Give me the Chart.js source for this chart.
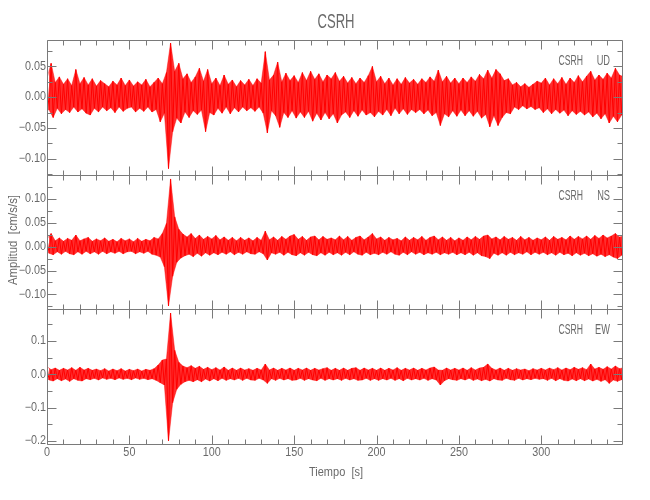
<!DOCTYPE html>
<html>
<head>
<meta charset="utf-8">
<title>CSRH</title>
<script src="https://cdn.jsdelivr.net/npm/chart.js@4.4.0/dist/chart.umd.min.js"></script>
<style>
  html, body { margin: 0; padding: 0; background: #fff; }
</style>
</head>
<body>
<canvas id="sismo" width="650" height="500"></canvas>
<script>
// estacion y componentes del registro
const estacion = 'CSRH';
const componentes = ['UD', 'NS', 'EW'];

const paso = 2.5;
const tMax = 349.6;
const marcasT = [0, 50, 100, 150, 200, 250, 300];

const udMax = [
  0.031, 0.055, 0.024, 0.033, 0.021, 0.030, 0.019, 0.045, 0.022, 0.032,
  0.020, 0.030, 0.018, 0.027, 0.022, 0.017, 0.026, 0.020, 0.031, 0.019,
  0.028, 0.018, 0.025, 0.020, 0.029, 0.017, 0.024, 0.031, 0.022, 0.040,
  0.088, 0.042, 0.055, 0.030, 0.038, 0.024, 0.033, 0.047, 0.026, 0.045,
  0.022, 0.031, 0.019, 0.036, 0.021, 0.028, 0.017, 0.027, 0.020, 0.029,
  0.019, 0.030, 0.023, 0.074, 0.028, 0.036, 0.057, 0.025, 0.039, 0.027,
  0.035, 0.024, 0.040, 0.027, 0.042, 0.029, 0.038, 0.025, 0.036, 0.030,
  0.040, 0.026, 0.034, 0.023, 0.032, 0.022, 0.031, 0.024, 0.035, 0.050,
  0.025, 0.034, 0.022, 0.031, 0.020, 0.030, 0.021, 0.032, 0.023, 0.029,
  0.021, 0.030, 0.024, 0.033, 0.026, 0.044, 0.025, 0.034, 0.023, 0.031,
  0.022, 0.031, 0.024, 0.033, 0.026, 0.037, 0.030, 0.044, 0.031, 0.045,
  0.038, 0.027, 0.030, 0.020, 0.024, 0.017, 0.022, 0.016, 0.021, 0.026,
  0.023, 0.031, 0.020, 0.030, 0.022, 0.032, 0.021, 0.031, 0.024, 0.035,
  0.025, 0.034, 0.042, 0.028, 0.036, 0.029, 0.039, 0.031, 0.047, 0.036,
  0.033
];
const udMin = [
  -0.021, -0.033, -0.018, -0.027, -0.020, -0.025, -0.016, -0.024, -0.019, -0.026,
  -0.029, -0.018, -0.024, -0.016, -0.022, -0.017, -0.025, -0.016, -0.023, -0.018,
  -0.016, -0.024, -0.018, -0.023, -0.016, -0.024, -0.020, -0.040, -0.026, -0.116,
  -0.056, -0.034, -0.042, -0.024, -0.033, -0.022, -0.028, -0.021, -0.056, -0.025,
  -0.029, -0.018, -0.026, -0.016, -0.027, -0.017, -0.024, -0.016, -0.022, -0.017,
  -0.023, -0.016, -0.026, -0.058, -0.022, -0.030, -0.049, -0.025, -0.033, -0.022,
  -0.034, -0.024, -0.033, -0.023, -0.039, -0.026, -0.037, -0.025, -0.035, -0.027,
  -0.042, -0.029, -0.024, -0.033, -0.022, -0.031, -0.021, -0.029, -0.025, -0.032,
  -0.023, -0.029, -0.020, -0.030, -0.018, -0.027, -0.019, -0.028, -0.020, -0.025,
  -0.020, -0.027, -0.021, -0.030, -0.025, -0.046, -0.027, -0.032, -0.022, -0.031,
  -0.021, -0.030, -0.022, -0.031, -0.023, -0.034, -0.028, -0.048, -0.030, -0.046,
  -0.033, -0.025, -0.027, -0.016, -0.020, -0.014, -0.019, -0.015, -0.020, -0.017,
  -0.025, -0.019, -0.027, -0.020, -0.026, -0.021, -0.030, -0.022, -0.028, -0.023,
  -0.029, -0.024, -0.032, -0.026, -0.035, -0.027, -0.042, -0.031, -0.040, -0.029,
  -0.033
];

const nsMax = [
  0.016, 0.027, 0.012, 0.018, 0.011, 0.017, 0.013, 0.024, 0.012, 0.016,
  0.019, 0.011, 0.016, 0.012, 0.018, 0.011, 0.015, 0.010, 0.017, 0.012,
  0.016, 0.010, 0.017, 0.011, 0.015, 0.012, 0.019, 0.016, 0.027, 0.048,
  0.141, 0.062, 0.036, 0.026, 0.020, 0.027, 0.017, 0.024, 0.015, 0.021,
  0.016, 0.023, 0.014, 0.020, 0.013, 0.019, 0.012, 0.019, 0.013, 0.018,
  0.012, 0.019, 0.013, 0.032, 0.014, 0.020, 0.013, 0.021, 0.015, 0.022,
  0.025, 0.015, 0.021, 0.013, 0.020, 0.022, 0.014, 0.021, 0.015, 0.018,
  0.014, 0.022, 0.014, 0.021, 0.013, 0.019, 0.022, 0.014, 0.020, 0.027,
  0.016, 0.020, 0.013, 0.019, 0.014, 0.017, 0.012, 0.020, 0.013, 0.019,
  0.014, 0.021, 0.013, 0.019, 0.022, 0.014, 0.020, 0.013, 0.019, 0.012,
  0.018, 0.013, 0.020, 0.014, 0.021, 0.015, 0.022, 0.024, 0.016, 0.020,
  0.014, 0.021, 0.015, 0.019, 0.013, 0.021, 0.014, 0.019, 0.013, 0.018,
  0.014, 0.020, 0.013, 0.021, 0.015, 0.019, 0.014, 0.022, 0.015, 0.021,
  0.016, 0.022, 0.015, 0.023, 0.017, 0.024, 0.018, 0.022, 0.027, 0.020,
  0.022
];
const nsMin = [
  -0.014, -0.017, -0.011, -0.016, -0.010, -0.015, -0.017, -0.011, -0.016, -0.010,
  -0.015, -0.011, -0.016, -0.010, -0.015, -0.011, -0.014, -0.010, -0.015, -0.011,
  -0.010, -0.015, -0.011, -0.014, -0.010, -0.016, -0.018, -0.022, -0.042, -0.124,
  -0.062, -0.033, -0.024, -0.019, -0.016, -0.021, -0.014, -0.020, -0.013, -0.018,
  -0.013, -0.017, -0.012, -0.016, -0.011, -0.017, -0.012, -0.016, -0.011, -0.015,
  -0.016, -0.011, -0.015, -0.028, -0.013, -0.016, -0.012, -0.018, -0.012, -0.017,
  -0.019, -0.013, -0.018, -0.012, -0.017, -0.019, -0.013, -0.018, -0.012, -0.017,
  -0.013, -0.018, -0.012, -0.017, -0.011, -0.016, -0.018, -0.012, -0.017, -0.014,
  -0.017, -0.012, -0.016, -0.011, -0.016, -0.018, -0.012, -0.017, -0.011, -0.016,
  -0.012, -0.017, -0.013, -0.016, -0.012, -0.017, -0.013, -0.016, -0.012, -0.017,
  -0.013, -0.017, -0.012, -0.018, -0.013, -0.019, -0.021, -0.025, -0.014, -0.018,
  -0.013, -0.018, -0.012, -0.017, -0.013, -0.016, -0.011, -0.017, -0.012, -0.016,
  -0.012, -0.017, -0.013, -0.018, -0.012, -0.017, -0.014, -0.019, -0.013, -0.018,
  -0.014, -0.019, -0.015, -0.020, -0.016, -0.021, -0.017, -0.022, -0.025, -0.018,
  -0.021
];

const ewMax = [
  0.023, 0.014, 0.019, 0.012, 0.018, 0.013, 0.020, 0.012, 0.021, 0.013,
  0.018, 0.012, 0.016, 0.011, 0.017, 0.010, 0.016, 0.011, 0.017, 0.010,
  0.015, 0.011, 0.016, 0.010, 0.015, 0.012, 0.017, 0.028, 0.043, 0.046,
  0.184, 0.072, 0.036, 0.025, 0.020, 0.026, 0.018, 0.024, 0.015, 0.021,
  0.014, 0.020, 0.013, 0.022, 0.012, 0.019, 0.012, 0.019, 0.013, 0.017,
  0.012, 0.018, 0.013, 0.031, 0.013, 0.019, 0.012, 0.018, 0.013, 0.019,
  0.012, 0.018, 0.013, 0.019, 0.012, 0.018, 0.013, 0.017, 0.020, 0.012,
  0.018, 0.012, 0.019, 0.012, 0.018, 0.020, 0.012, 0.019, 0.013, 0.018,
  0.012, 0.019, 0.012, 0.018, 0.013, 0.020, 0.012, 0.018, 0.013, 0.019,
  0.012, 0.018, 0.013, 0.019, 0.022, 0.013, 0.012, 0.019, 0.013, 0.018,
  0.013, 0.019, 0.012, 0.020, 0.013, 0.019, 0.021, 0.031, 0.018, 0.013,
  0.019, 0.012, 0.018, 0.012, 0.017, 0.013, 0.016, 0.011, 0.017, 0.013,
  0.018, 0.013, 0.019, 0.014, 0.020, 0.013, 0.019, 0.014, 0.021, 0.015,
  0.020, 0.014, 0.031, 0.016, 0.021, 0.015, 0.023, 0.016, 0.025, 0.017,
  0.020
];
const ewMin = [
  -0.017, -0.020, -0.013, -0.019, -0.014, -0.021, -0.013, -0.018, -0.020, -0.013,
  -0.016, -0.012, -0.017, -0.011, -0.015, -0.012, -0.016, -0.011, -0.015, -0.012,
  -0.016, -0.011, -0.015, -0.012, -0.016, -0.013, -0.018, -0.025, -0.032, -0.200,
  -0.085, -0.045, -0.030, -0.022, -0.018, -0.022, -0.016, -0.022, -0.014, -0.020,
  -0.013, -0.019, -0.012, -0.018, -0.013, -0.017, -0.012, -0.018, -0.012, -0.017,
  -0.018, -0.012, -0.017, -0.027, -0.013, -0.018, -0.012, -0.017, -0.013, -0.018,
  -0.017, -0.012, -0.018, -0.013, -0.017, -0.019, -0.012, -0.018, -0.013, -0.017,
  -0.013, -0.018, -0.012, -0.017, -0.013, -0.018, -0.017, -0.012, -0.018, -0.013,
  -0.018, -0.013, -0.017, -0.012, -0.018, -0.013, -0.019, -0.012, -0.017, -0.013,
  -0.017, -0.012, -0.018, -0.013, -0.017, -0.032, -0.019, -0.013, -0.016, -0.018,
  -0.013, -0.017, -0.012, -0.018, -0.014, -0.019, -0.015, -0.020, -0.013, -0.017,
  -0.018, -0.012, -0.016, -0.018, -0.012, -0.017, -0.013, -0.016, -0.012, -0.015,
  -0.013, -0.018, -0.012, -0.019, -0.013, -0.018, -0.020, -0.014, -0.019, -0.013,
  -0.019, -0.014, -0.020, -0.015, -0.021, -0.016, -0.027, -0.017, -0.021, -0.016,
  -0.019
];

// limites de amplitud de cada panel
const udRango = [-0.126, 0.093];
const nsRango = [-0.131, 0.150];
const ewRango = [-0.209, 0.195];

const gris = '#6a6a6a';
const fuente = '"Liberation Sans", Arial, sans-serif';

function picos(vals, desfase) {
  return vals.map((v, i) => ({ x: i * paso + desfase, y: v }));
}

// une picos positivos y negativos en una sola traza
function traza(maxs, mins) {
  const pts = [];
  maxs.forEach((v, i) => {
    pts.push({ x: i * paso, y: v });
    pts.push({ x: i * paso + paso / 2, y: mins[i] });
  });
  return pts;
}

const paneles = [
  { id: 'yUD', comp: componentes[0], rango: udRango, mayor: 0.05, menor: 0.025, dec: 2, max: udMax, min: udMin },
  { id: 'yNS', comp: componentes[1], rango: nsRango, mayor: 0.05, menor: 0.025, dec: 2, max: nsMax, min: nsMin },
  { id: 'yEW', comp: componentes[2], rango: ewRango, mayor: 0.1, menor: 0.05, dec: 1, max: ewMax, min: ewMin }
];

function etiqueta(v, dec) {
  const s = Math.abs(v).toFixed(dec);
  return v < -1e-9 ? '\u2212' + s : s;
}

// texto comprimido a lo ancho, como la fuente vectorial del original
function texto(ctx, s, x, y, size, esc, align, ancho) {
  ctx.save();
  ctx.font = size + 'px ' + fuente;
  ctx.textAlign = align;
  ctx.textBaseline = 'middle';
  if (ancho) esc = ancho / ctx.measureText(s).width;
  ctx.translate(x, y);
  ctx.scale(esc, 1);
  ctx.fillText(s, 0, 0);
  ctx.restore();
}

const escalas = {
  x: {
    type: 'linear', min: 0, max: tMax,
    grid: { display: false, drawTicks: false }, border: { display: false },
    ticks: { display: false },
    afterFit: s => { s.height = 56; }
  }
};
// las escalas apiladas se colocan de arriba abajo en orden inverso
paneles.slice().reverse().forEach(p => {
  escalas[p.id] = {
    type: 'linear', position: 'left', stack: 'sismo', stackWeight: 1,
    min: p.rango[0], max: p.rango[1],
    grid: { display: false, drawTicks: false }, border: { display: false },
    ticks: { display: false, stepSize: p.mayor, includeBounds: false },
    afterFit: s => { s.width = 47; }
  };
});

// marcos, marcas hacia adentro y textos
const marco = {
  id: 'marco',
  afterDraw(chart) {
    const ctx = chart.ctx;
    const ex = chart.scales.x;
    const L = Math.round(ex.left) + 0.5;
    const R = Math.round(ex.right) - 0.5;
    ctx.save();
    ctx.strokeStyle = '#7a7a7a';
    ctx.fillStyle = gris;
    ctx.lineWidth = 1;
    paneles.forEach(p => {
      const ey = chart.scales[p.id];
      const T = Math.round(ey.top) + 0.5;
      const B = Math.round(ey.bottom) + 0.5;
      ctx.beginPath();
      ctx.rect(L, T, R - L, B - T);
      for (let k = 0; k * 10 <= tMax; k++) {
        const px = Math.round(ex.getPixelForValue(k * 10)) + 0.5;
        const len = k % 5 === 0 ? 9 : 5;
        ctx.moveTo(px, T); ctx.lineTo(px, T + len);
        ctx.moveTo(px, B); ctx.lineTo(px, B - len);
      }
      const k0 = Math.ceil(p.rango[0] / p.menor - 1e-9);
      for (let k = k0; k * p.menor <= p.rango[1] + 1e-9; k++) {
        const v = k * p.menor;
        const py = Math.round(ey.getPixelForValue(v)) + 0.5;
        const r = v / p.mayor;
        const len = Math.abs(r - Math.round(r)) < 1e-6 ? 9 : 5;
        ctx.moveTo(L, py); ctx.lineTo(L + len, py);
        ctx.moveTo(R, py); ctx.lineTo(R - len, py);
      }
      ctx.stroke();

      ey.ticks.forEach(t => {
        texto(ctx, etiqueta(t.value, p.dec), L - 1.5, ey.getPixelForValue(t.value), 12, 0.9, 'right');
      });

      const yt = ey.top + 21;
      texto(ctx, p.comp, 610, yt, 14, 0.66, 'right');
      texto(ctx, estacion, 583, yt, 14, 0, 'right', 24.5);
    });

    const B = Math.round(ex.top) + 0.5;
    marcasT.forEach(v => {
      texto(ctx, String(v), ex.getPixelForValue(v), B + 8.5, 12, 0.9, 'center');
    });

    texto(ctx, estacion, 336, 22, 21, 0, 'center', 37);
    texto(ctx, 'Tiempo  [s]', 336, 473, 12, 0, 'center', 54);
    ctx.translate(14, 240);
    ctx.rotate(-Math.PI / 2);
    texto(ctx, 'Amplitud  [cm/s/s]', 0, 0, 12, 0, 'center', 90);
    ctx.restore();
  }
};

const series = [];
paneles.forEach(p => {
  series.push({
    label: p.comp + ' max', data: picos(p.max, 0), yAxisID: p.id,
    borderColor: 'rgba(255,0,0,0.45)', borderWidth: 1, pointRadius: 0, fill: false
  });
  series.push({
    label: p.comp + ' min', data: picos(p.min, paso / 2), yAxisID: p.id,
    borderColor: 'rgba(255,0,0,0.45)', borderWidth: 1, pointRadius: 0,
    fill: '-1', backgroundColor: 'rgba(255,0,0,0.82)'
  });
  series.push({
    label: estacion + ' ' + p.comp, data: traza(p.max, p.min), yAxisID: p.id,
    borderColor: '#ff0000', borderWidth: 1, borderJoinStyle: 'bevel', pointRadius: 0, fill: false
  });
});

new Chart(document.getElementById('sismo'), {
  type: 'line',
  data: { datasets: series },
  options: {
    responsive: false,
    animation: false,
    parsing: false,
    layout: { padding: { top: 40, right: 27, left: 0, bottom: 0 } },
    plugins: { legend: { display: false }, tooltip: { enabled: false }, title: { display: false } },
    scales: escalas
  },
  plugins: [marco]
});
</script>
</body>
</html>
